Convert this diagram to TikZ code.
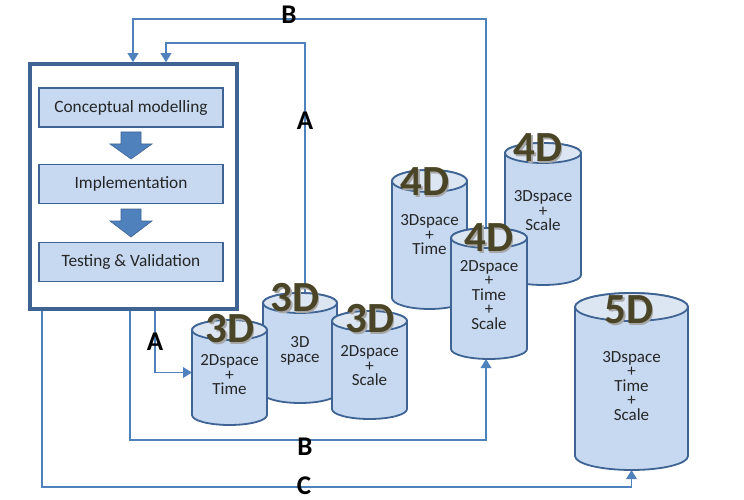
\documentclass[tikz,border=0pt]{standalone}
\usepackage{fontspec}
\setmainfont{Carlito}
\usetikzlibrary{arrows.meta}
\pgfdeclarelayer{bg}
\pgfsetlayers{bg,main}
\definecolor{edgeblue}{HTML}{3F6494}
\definecolor{linkblue}{HTML}{4F81BD}
\definecolor{bodyfill}{HTML}{C6D9F1}
\definecolor{topfill}{HTML}{DCE6F2}
\definecolor{dimtext}{HTML}{4B4527}
\definecolor{txt}{HTML}{262626}
\tikzset{
  outerbox/.style={draw=edgeblue, line width=3.5pt, fill=white, inner sep=0, minimum width=207, minimum height=245},
  stepbox/.style={draw=edgeblue, line width=1.8pt, fill=bodyfill, inner sep=0, minimum width=184, minimum height=39, font=\fontsize{17.3}{20}\selectfont, text=txt},
  blockarrow/.style={fill=linkblue, draw=edgeblue, line width=0.6pt},
  cylbody/.style={fill=bodyfill, draw=edgeblue, line width=1.8pt},
  cyltop/.style={fill=topfill, draw=edgeblue, line width=1.8pt},
  cyltext/.style={align=center, inner sep=0, font=\fontsize{17}{14.5}\selectfont, text=txt},
  dimlabel/.style={inner sep=0, font=\fontsize{43}{43}\selectfont\bfseries, text=dimtext},
  dimshadow/.style={inner sep=0, font=\fontsize{43}{43}\selectfont\bfseries, text=black!35},
  link/.style={draw=linkblue, line width=1.8pt},
  linkarrow/.style={link, -{Triangle[length=9pt, width=10.5pt]}},
  letter/.style={inner sep=0, font=\fontsize{27}{27}\selectfont\bfseries, text=black}
}
% name, cx, top, bottom, rx, ry  (pixel units, y downwards)
\newcommand\mycyl[6]{%
  \node[inner sep=0, outer sep=0, minimum width={2*#5}, minimum height={#4-#3}] (#1) at (#2,{-(#3+#4)/2}) {};
  \filldraw[cylbody] ({#2-#5},{-(#3+#6)}) -- ({#2-#5},{-(#4-#6)})
     arc[start angle=180, end angle=360, x radius=#5, y radius=#6]
     -- ({#2+#5},{-(#3+#6)})
     arc[start angle=0, end angle=180, x radius=#5, y radius=#6] -- cycle;
  \filldraw[cyltop] (#2,{-(#3+#6)}) ellipse[x radius=#5, y radius=#6];
}
\newcommand\mydim[4]{% name, x, y, text
  \node[dimshadow] at ({#2+1.6},{-#3-1.6}) {#4};
  \node[dimlabel] (#1) at (#2,-#3) {#4};
}
\begin{document}
\begin{tikzpicture}[x=1pt,y=1pt]
\useasboundingbox (0,0) rectangle (744,-500);

% process box
\node[outerbox] (proc) at (133.5,-186.5) {};
\node[stepbox] (cm) at (131,-107.5) {Conceptual modelling};
\node[stepbox] (impl) at (131,-184) {Implementation};
\node[stepbox] (tv) at (131,-262) {Testing \& Validation};
\filldraw[blockarrow] (121,-132) -- (141,-132) -- (141,-144) -- (152,-144) -- (131,-159) -- (110,-144) -- (121,-144) -- cycle;
\filldraw[blockarrow] (121,-209) -- (141,-209) -- (141,-221) -- (152,-221) -- (131,-237) -- (110,-221) -- (121,-221) -- cycle;

% cylinders
\mycyl{c2}{300}{293}{403}{37}{10}
\mycyl{c1}{229.5}{320}{425}{37.5}{10}
\mycyl{c3}{369.5}{311}{419}{37.5}{10}
\mycyl{c4}{429.5}{170}{309}{37.5}{11}
\mycyl{c5}{543}{143}{285}{38}{10}
\mycyl{c6}{489}{228}{359}{38}{10}
\mycyl{c7}{631.5}{293}{470}{56.5}{14}

% cylinder texts
\node[cyltext] (t1) at (229.5,-375) {2Dspace\\+\\Time};
\node[cyltext] (t2) at (300,-351) {3D\\space};
\node[cyltext] (t3) at (369.5,-366) {2Dspace\\+\\Scale};
\node[cyltext] (t4) at (429.5,-235) {3Dspace\\+\\Time};
\node[cyltext] (t5) at (543,-211) {3Dspace\\+\\Scale};
\node[cyltext] (t6) at (489,-295) {2Dspace\\+\\Time\\+\\Scale};
\node[cyltext] (t7) at (631.5,-386) {3Dspace\\+\\Time\\+\\Scale};

% dimension labels
\mydim{d2}{295}{298}{3D}
\mydim{d1}{230}{329}{3D}
\mydim{d3}{370}{319}{3D}
\mydim{d4}{425}{182}{4D}
\mydim{d5}{538}{148}{4D}
\mydim{d6}{489}{238}{4D}
\mydim{d7}{629}{310}{5D}

% connector corner points
\coordinate (aup) at (305,-43);
\coordinate (bup) at (486,-19);
\coordinate (blow) at (130,-440);
\coordinate (alow) at (155,-373);
\coordinate (clow) at (42,-487);

\begin{pgfonlayer}{bg}
  \fill[white] (0,0) rectangle (744,-500);
  % A (upper): from 3D space cylinder back to the process box
  \draw[linkarrow] (c2.north -| aup) -- (aup) -| ([xshift=32.5pt]proc.north);
  % A (lower): from the process box to 2Dspace+Time
  \draw[linkarrow] (proc.south -| alow) |- (c1.west);
  % B (lower): from the process box to the 4D 2Dspace+Time+Scale cylinder
  \draw[linkarrow] (proc.south -| blow) |- ([xshift=-3pt]c6.south |- blow) -- ([xshift=-3pt]c6.south);
  % B (upper): from 4D cylinder back to the process box
  \draw[linkarrow] ([xshift=-3pt]c6.north) -- (bup) -| ([xshift=-0.5pt]proc.north);
  % C: from the process box to 5D
  \draw[linkarrow] (proc.south -| clow) |- (c7.south |- clow) -- (c7.south);
\end{pgfonlayer}

% connector labels
\node[letter] (la1) at (305,-121) {A};
\node[letter] (la2) at (155,-342) {A};
\node[letter] (lb1) at (289,-15) {B};
\node[letter] (lb2) at (305,-447) {B};
\node[letter] (lc) at (304,-486) {C};
\end{tikzpicture}
\end{document}
